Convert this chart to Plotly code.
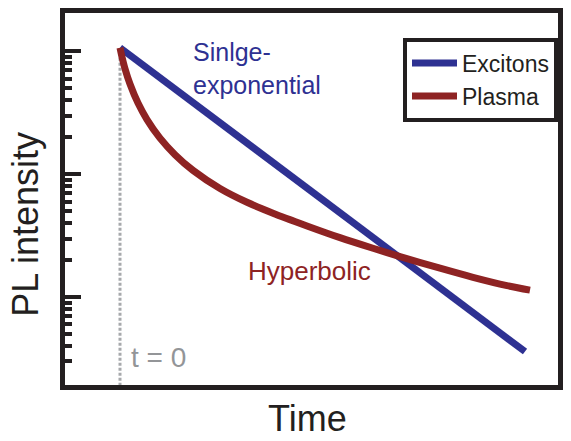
import plotly.graph_objects as go

# ---- data ----
time_exc = [0.0, 4.05]
pl_exc = [1072, 3.61]

time_pl = [0.0, 0.02, 0.05, 0.10, 0.18, 0.27, 0.40, 0.55, 0.73, 1.00, 1.27,
           1.53, 1.87, 2.20, 2.53, 2.80, 3.20, 3.53, 3.87, 4.10]
pl_pl = [1071, 902, 724, 543, 380, 279, 197, 144.5, 107.6, 76.7, 59.2,
         48.2, 38.0, 30.5, 25.0, 21.4, 17.2, 14.5, 12.4, 11.4]

t0_x = [0.0, 0.0]
t0_y = [890, 1.0]

major_ticks = [10, 100, 1000]
minor_ticks = [3, 4, 5, 6, 7, 8, 9,
               20, 30, 40, 50, 60, 70, 80, 90,
               200, 300, 400, 500, 600, 700, 800, 900]

BLUE = "#2e3192"
RED = "#8e2323"
FRAME = "#231f20"
GRAY = "#a7a9ac"
FONT = "Liberation Sans, Arial, Helvetica, sans-serif"

fig = go.Figure()
fig.add_trace(go.Scatter(x=t0_x, y=t0_y, mode="lines", showlegend=False,
                         hoverinfo="skip",
                         line=dict(color=GRAY, width=3, dash="3px,2px")))
fig.add_trace(go.Scatter(x=time_exc, y=pl_exc, mode="lines", name="Excitons",
                         line=dict(color=BLUE, width=7)))
fig.add_trace(go.Scatter(x=time_pl, y=pl_pl, mode="lines", name="Plasma",
                         line=dict(color=RED, width=7, shape="spline", smoothing=0.8)))

L, R, T, B = 65, 558, 8, 385
W, H = 571, 441


def px(x):
    return (x - L) / (R - L)


def py(y):
    return (B - y) / (B - T)


annotations = [
    dict(text="Sinlge-<br>exponential", x=px(191), y=py(64), xanchor="left",
         yanchor="middle", align="left", showarrow=False,
         font=dict(size=25, color=BLUE, family=FONT)),
    dict(text="Hyperbolic", x=px(246), y=py(269), xanchor="left",
         yanchor="middle", showarrow=False,
         font=dict(size=26, color=RED, family=FONT)),
    dict(text="t = 0", x=px(129), y=py(357), xanchor="left",
         yanchor="middle", showarrow=False,
         font=dict(size=28, color="#939598", family=FONT)),
    dict(text="Time", x=px(307), y=py(419), xanchor="center",
         yanchor="middle", showarrow=False,
         font=dict(size=36, color=FRAME, family=FONT)),
    dict(text="PL intensity", x=px(25.5), y=py(222), xanchor="center",
         yanchor="middle", showarrow=False, textangle=-90,
         font=dict(size=36, color=FRAME, family=FONT)),
]
for a in annotations:
    a["xref"] = "paper"
    a["yref"] = "paper"

fig.update_layout(
    width=W, height=H, autosize=False,
    margin=dict(l=L, r=W - R, t=T, b=H - B),
    paper_bgcolor="white", plot_bgcolor="white",
    annotations=annotations,
    legend=dict(x=1, xanchor="right", y=py(33), yanchor="top",
                bordercolor=FRAME, borderwidth=4, bgcolor="white",
                font=dict(size=23, color=FRAME, family=FONT),
                itemwidth=45, tracegroupgap=0),
    xaxis=dict(range=[-0.55, 4.38], showline=True, linewidth=5,
               linecolor=FRAME, mirror=True, showgrid=False, zeroline=False,
               ticks="", showticklabels=False),
    yaxis=dict(type="log", range=[0.285, 3.313], showline=True, linewidth=5,
               linecolor=FRAME, mirror=True, showgrid=False, zeroline=False,
               tickmode="array", tickvals=major_ticks, ticks="inside",
               ticklen=16, tickwidth=4, tickcolor=FRAME, showticklabels=False,
               minor=dict(tickmode="array", tickvals=minor_ticks, ticks="inside",
                          ticklen=7, tickwidth=3.5, tickcolor=FRAME,
                          showgrid=False)),
)

fig.write_html("out.html")
